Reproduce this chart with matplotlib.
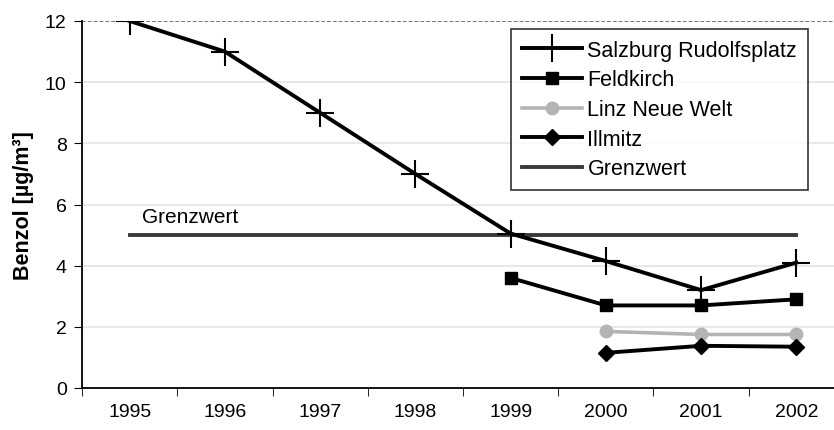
import numpy as np
import matplotlib
matplotlib.use("Agg")
import matplotlib.pyplot as plt

# Benzol-Jahresmittelwerte
years = ["1995", "1996", "1997", "1998", "1999", "2000", "2001", "2002"]
salzburg = [12.0, 11.0, 9.0, 7.0, 5.05, 4.15, 3.2, 4.1]
feldkirch = [np.nan, np.nan, np.nan, np.nan, 3.6, 2.7, 2.7, 2.9]
linz = [np.nan, np.nan, np.nan, np.nan, np.nan, 1.85, 1.75, 1.75]
illmitz = [np.nan, np.nan, np.nan, np.nan, np.nan, 1.15, 1.38, 1.35]
grenzwert = [5, 5, 5, 5, 5, 5, 5, 5]

plt.rcParams['font.family'] = ['Liberation Sans', 'DejaVu Sans']

fig = plt.figure(figsize=(8.34, 4.31), dpi=100)
# plot area runs past the right edge of the figure
ax = fig.add_axes([82 / 834, 1 - 389 / 431, 762 / 834, 367 / 431])

x = np.arange(len(years))

for yv in [2, 4, 6, 8, 10]:
    ax.axhline(yv, color='#e6e6e6', linewidth=1.3, zorder=0)
ax.axhline(12, color='#777777', linewidth=1.4, linestyle=(0, (2, 1)), zorder=0)

ax.plot(x, salzburg, color='black', linewidth=2.8, marker='+', markersize=20,
        markeredgewidth=1.5, label='Salzburg Rudolfsplatz', zorder=5)
ax.plot(x, feldkirch, color='black', linewidth=2.8, marker='s', markersize=9,
        label='Feldkirch', zorder=5)
ax.plot(x, linz, color='#b4b4b4', linewidth=2.6, marker='o', markersize=9,
        label='Linz Neue Welt', zorder=4)
ax.plot(x, illmitz, color='black', linewidth=2.8, marker='D', markersize=8,
        label='Illmitz', zorder=5)
ax.plot(x, grenzwert, color='#3a3a3a', linewidth=2.8, label='Grenzwert', zorder=3)

ax.text(0.13, 5.62, 'Grenzwert', fontsize=15, ha='left', va='center')

ax.set_xlim(-0.5, 7.5)
ax.set_ylim(0, 12)
ax.set_yticks([0, 2, 4, 6, 8, 10, 12])
ax.set_xticks(x)
ax.set_xticklabels(years)
ax.set_xticks(np.arange(-0.5, 8, 1), minor=True)
ax.tick_params(axis='x', which='major', length=0, labelsize=14, pad=11)
ax.tick_params(axis='x', which='minor', length=6, direction='out')
ax.tick_params(axis='y', labelsize=14, length=6, direction='out', pad=5)

for side in ['top', 'right']:
    ax.spines[side].set_visible(False)
ax.spines['left'].set_linewidth(1.3)
ax.spines['bottom'].set_linewidth(1.3)

ax.set_ylabel('Benzol [µg/m³]', fontsize=15.5, fontweight='bold', labelpad=8)

leg = ax.legend(loc='upper left', bbox_to_anchor=(0.563, 0.978), fontsize=15.5,
                frameon=True, fancybox=False, edgecolor='black', handlelength=2.8,
                handletextpad=0.25, labelspacing=0.4, borderpad=0.5,
                borderaxespad=0)
leg.get_frame().set_linewidth(1.2)

fig.savefig('out.png', dpi=100)
